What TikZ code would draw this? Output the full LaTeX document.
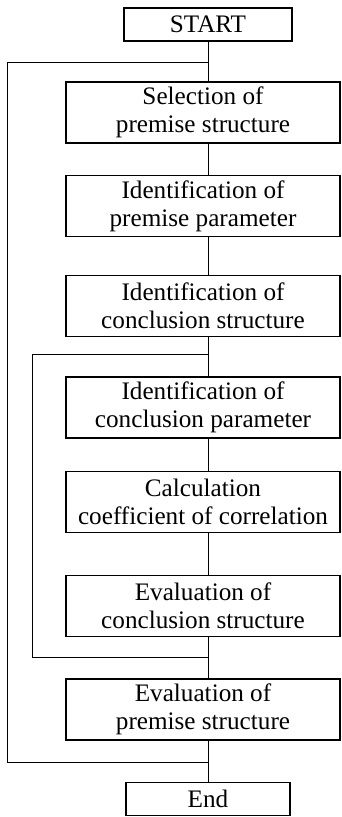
\documentclass[tikz,border=0pt]{standalone}
\usepackage{fontspec}
\setmainfont{Liberation Serif}
\begin{document}
\begin{tikzpicture}[x=0.3mm, y=-0.3mm, line width=0.6pt,
   box_style/.style={draw=black, line width=1.4pt, minimum width=82.2mm, minimum height=18.4mm,
     inner sep=0pt, align=center, font=\fontsize{21.5}{24}\selectfont},
   term_style/.style={box_style, minimum width=50.5mm, minimum height=10mm}]
	  \useasboundingbox (0,0) rectangle (342,817);

	  \node [term_style] (start) at (208,24.5) {START};
	  \node [box_style] (sel) at (203,112.5) {Selection of\\premise structure};
	  \node [box_style] (ipp) at (203,206) {Identification of\\premise parameter};
	  \node [box_style] (ics) at (203,306) {Identification of\\conclusion structure};
	  \node [box_style] (icp) at (203,407.5) {Identification of\\conclusion parameter};
	  \node [box_style] (calc) at (203,502) {Calculation\\coefficient of correlation};
	  \node [box_style] (ecs) at (203,606) {Evaluation of\\conclusion structure};
	  \node [box_style] (eps) at (203,709.5) {Evaluation of\\premise structure};
	  \node [term_style, minimum width=49.2mm] (end) at (208,799) {End};

	  \foreach \from/\to in {start/sel, sel/ipp, ipp/ics, ics/icp, icp/calc, calc/ecs, ecs/eps, eps/end}
	    \draw (\from.south -| start) -- (\to.north -| start);

	  % outer loop
	  \coordinate (o1) at (208,62);
	  \coordinate (o2) at (7,62);
	  \coordinate (o3) at (7,762);
	  \coordinate (o4) at (208,762);
	  \draw (o1) -- (o2) -- (o3) -- (o4);

	  % inner loop
	  \coordinate (i1) at (208,354);
	  \coordinate (i2) at (32,354);
	  \coordinate (i3) at (32,657);
	  \coordinate (i4) at (208,657);
	  \draw (i1) -- (i2) -- (i3) -- (i4);

	\end{tikzpicture}
\end{document}
